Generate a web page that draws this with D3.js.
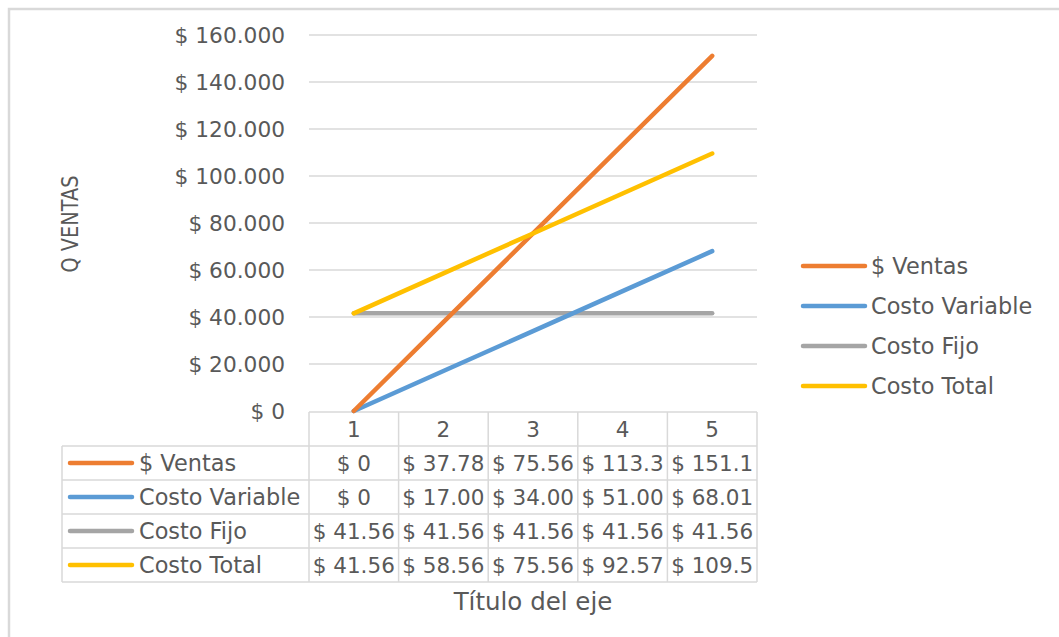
<!DOCTYPE html>
<html><head><meta charset="utf-8">
<script src="https://cdn.jsdelivr.net/npm/d3@7"></script>
<style>body{margin:0;background:#fff}svg{display:block}text{font-family:"DejaVu Sans",sans-serif;fill:#595959}</style>
</head><body><svg id="c" width="1059" height="637"></svg>
<script>
const categories = ["1","2","3","4","5"];
const seriesNames = ["$ Ventas","Costo Variable","Costo Fijo","Costo Total"];
const ventas = [0, 37.78, 75.56, 113.34, 151.12];
const costoVariable = [0, 17.00, 34.00, 51.00, 68.01];
const costoFijo = [41.56, 41.56, 41.56, 41.56, 41.56];
const costoTotal = [41.56, 58.56, 75.56, 92.57, 109.57];
const ventasLabels = ["$ 0","$ 37.78","$ 75.56","$ 113.3","$ 151.1"];
const variableLabels = ["$ 0","$ 17.00","$ 34.00","$ 51.00","$ 68.01"];
const fijoLabels = ["$ 41.56","$ 41.56","$ 41.56","$ 41.56","$ 41.56"];
const totalLabels = ["$ 41.56","$ 58.56","$ 75.56","$ 92.57","$ 109.5"];
const yTicks = [0,20,40,60,80,100,120,140,160];
const yTickLabels = ["$ 0","$ 20.000","$ 40.000","$ 60.000","$ 80.000","$ 100.000","$ 120.000","$ 140.000","$ 160.000"];
const colors = ["#ED7D31","#5B9BD5","#A5A5A5","#FFC000"];
const yTitle = "Q VENTAS";
const xTitle = "Título del eje";

const series = [ventas, costoVariable, costoFijo, costoTotal];
const labels = [ventasLabels, variableLabels, fijoLabels, totalLabels];

const svg = d3.select("#c");
const grid = "#d9d9d9";
// frame
svg.append("rect").attr("x",9).attr("y",9).attr("width",1200).attr("height",800)
  .attr("fill","none").attr("stroke",grid).attr("stroke-width",2.5);

const x0 = 309, x1 = 757, yTop = 35, yBot = 411;
const x = d3.scaleBand().domain(categories).range([x0,x1]);
const y = d3.scaleLinear().domain([0,160]).range([yBot,yTop]);

// gridlines
svg.append("g").selectAll("line").data(yTicks.slice(1)).join("line")
  .attr("x1",x0).attr("x2",x1).attr("y1",d=>y(d)).attr("y2",d=>y(d))
  .attr("stroke",grid).attr("stroke-width",1.3);

// y axis labels
const yAxis = d3.axisLeft(y).tickValues(yTicks).tickSize(0).tickPadding(0)
  .tickFormat((d,i)=>yTickLabels[i]);
const ya = svg.append("g").attr("transform",`translate(285,0)`).call(yAxis);
ya.select(".domain").remove();
ya.selectAll("text").style("font-size","21.7px").attr("fill","#595959").attr("dy","0.35em")
  .style("font-family","DejaVu Sans");

// y title
svg.append("text").attr("transform","translate(70,224) rotate(-90)")
  .attr("text-anchor","middle").attr("dy","0.35em").style("font-size","23px")
  .attr("textLength",97).attr("lengthAdjust","spacingAndGlyphs").text(yTitle);

// table
const rowH = 34;
const tTop = 412, tLeft = 62;
const rowY = i => tTop + rowH*i; // row i top (0 = header)
const tbl = svg.append("g");
tbl.append("line").attr("x1",x0).attr("x2",x1).attr("y1",tTop).attr("y2",tTop).attr("stroke",grid).attr("stroke-width",1.5);
for (let i=1;i<=5;i++) {
  tbl.append("line").attr("x1",tLeft).attr("x2",x1).attr("y1",rowY(i)).attr("y2",rowY(i)).attr("stroke",grid).attr("stroke-width",1.5);
}
tbl.append("line").attr("x1",tLeft).attr("x2",tLeft).attr("y1",rowY(1)).attr("y2",rowY(5)).attr("stroke",grid).attr("stroke-width",1.5);
categories.forEach((c,i)=>{
  tbl.append("line").attr("x1",x(c)).attr("x2",x(c)).attr("y1",tTop).attr("y2",rowY(5)).attr("stroke",grid).attr("stroke-width",1.5);
});
tbl.append("line").attr("x1",x1).attr("x2",x1).attr("y1",tTop).attr("y2",rowY(5)).attr("stroke",grid).attr("stroke-width",1.5);
// header
tbl.selectAll("text.h").data(categories).join("text").attr("class","h")
  .attr("x",d=>x(d)+x.bandwidth()/2).attr("y",tTop+rowH/2).attr("dy","0.35em")
  .attr("text-anchor","middle").style("font-size","21.5px").text(d=>d);
// rows
seriesNames.forEach((name,si)=>{
  const cy = rowY(si+1)+rowH/2;
  tbl.append("line").attr("x1",70).attr("x2",132).attr("y1",cy).attr("y2",cy)
    .attr("stroke",colors[si]).attr("stroke-width",4.5).attr("stroke-linecap","round");
  tbl.append("text").attr("x",139).attr("y",cy).attr("dy","0.35em").style("font-size","22.4px").text(name);
  categories.forEach((c,ci)=>{
    tbl.append("text").attr("x",x(c)+x.bandwidth()/2).attr("y",cy).attr("dy","0.35em")
      .attr("text-anchor","middle").style("font-size","21.5px").text(labels[si][ci]);
  });
});
// x title
svg.append("text").attr("x",533).attr("y",601).attr("dy","0.35em").attr("text-anchor","middle")
  .style("font-size","24.5px").text(xTitle);

// lines
const line = d3.line().x((d,i)=>x(categories[i])+x.bandwidth()/2).y(d=>y(d));
[2,1,0,3].forEach(si=>{
  svg.append("path").datum(series[si]).attr("d",line).attr("fill","none")
    .attr("stroke",colors[si]).attr("stroke-width",4.5).attr("stroke-linecap","round");
});

// legend
seriesNames.forEach((name,si)=>{
  const ly = 266 + si*40;
  svg.append("line").attr("x1",803).attr("x2",865).attr("y1",ly).attr("y2",ly)
    .attr("stroke",colors[si]).attr("stroke-width",4.5).attr("stroke-linecap","round");
  svg.append("text").attr("x",871).attr("y",ly).attr("dy","0.35em").style("font-size","22.4px").text(name);
});
</script></body></html>
